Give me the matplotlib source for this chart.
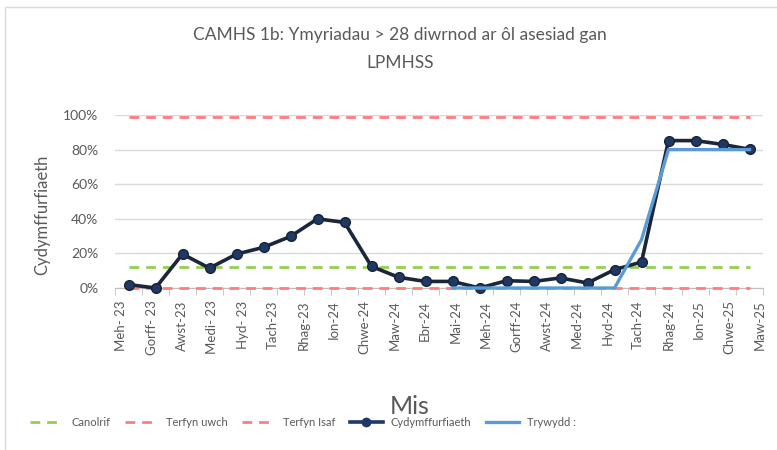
import numpy as np
import matplotlib
matplotlib.use('Agg')
import matplotlib.pyplot as plt
from matplotlib.lines import Line2D
from matplotlib.patches import Rectangle

plt.rcParams['font.family'] = ['Lato', 'DejaVu Sans']

# data (24 months)
cydymffurfiaeth = [0.02, 0.00, 0.196, 0.115, 0.196, 0.235, 0.298, 0.40, 0.379, 0.125,
                   0.062, 0.038, 0.038, 0.00, 0.042, 0.038, 0.058, 0.029, 0.106, 0.15,
                   0.852, 0.852, 0.83, 0.802]
trywydd = [np.nan] * 12 + [0.0, 0.0, 0.0, 0.0, 0.0, 0.0, 0.0, 0.279, 0.80, 0.80, 0.80, 0.80]
canolrif = 0.12
terfyn_uwch = 0.99
terfyn_isaf = 0.0
tick_labels = ['Meh- 23', 'Gorff- 23', 'Awst-23', 'Medi- 23', 'Hyd- 23', 'Tach-23', 'Rhag-23',
               'Ion-24', 'Chwe-24', 'Maw-24', 'Ebr-24', 'Mai-24', 'Meh-24', 'Gorff-24',
               'Awst-24', 'Med-24', 'Hyd-24', 'Tach-24', 'Rhag-24', 'Ion-25', 'Chwe-25', 'Maw-25']

n = len(cydymffurfiaeth)
x = np.arange(n)

grey = '#595959'
navy = '#1F3864'
blue = '#5B9BD5'
green = '#92D050'
red = '#FF7C80'

fig = plt.figure(figsize=(7.77, 4.5), dpi=100)
# chart border
fig.patches.append(Rectangle((5 / 777, -0.1), 1.0, 1.1 - 7 / 450, transform=fig.transFigure,
                             fill=False, edgecolor='#D9D9D9', lw=1.0))

ax = fig.add_axes([115 / 777, (450 - 288) / 450, (763 - 115) / 777, (288 - 115) / 450])

dash = (3.5, 2.5)
ax.plot(x, [canolrif] * n, color=green, lw=2, dashes=dash, zorder=3)
ax.plot(x, [terfyn_uwch] * n, color=red, lw=2, dashes=dash, zorder=3)
ax.plot(x, [terfyn_isaf] * n, color=red, lw=2, dashes=dash, zorder=3, clip_on=False)
ax.plot(x, cydymffurfiaeth, color='#1B2638', lw=2.6, marker='o', markersize=7,
        markerfacecolor=navy, markeredgecolor='#17233A', markeredgewidth=1, zorder=4,
        clip_on=False)
ax.plot(x, trywydd, color=blue, lw=2.4, zorder=5, clip_on=False)

ax.set_xlim(-0.5, n - 0.5)
ax.set_ylim(0, 1.0)
ax.set_yticks(np.arange(0, 1.01, 0.2))
ax.set_yticklabels([f'{int(round(v * 100))}%' for v in np.arange(0, 1.01, 0.2)],
                   fontsize=10, color=grey)
ax.grid(axis='y', color='#D9D9D9', lw=1, zorder=0)
ax.set_axisbelow(True)

# labels sit evenly across the axis, tick marks between categories
ax.set_xticks(np.linspace(-0.27, 23.37, len(tick_labels)))
ax.set_xticklabels(tick_labels, rotation=90, fontsize=9.5, color=grey)
ax.set_xticks(np.arange(-0.5, n, 1.0), minor=True)
ax.tick_params(axis='x', which='major', length=0, pad=9)
ax.tick_params(axis='x', which='minor', length=5, color='#BFBFBF')
ax.tick_params(axis='y', length=0, pad=12)

for s in ['top', 'right', 'left']:
    ax.spines[s].set_visible(False)
ax.spines['bottom'].set_color('#BFBFBF')
ax.spines['bottom'].set_zorder(1)

fig.text(400 / 777, 1 - 35 / 450, 'CAMHS 1b: Ymyriadau > 28 diwrnod ar ôl asesiad gan',
         ha='center', va='center', fontsize=12.5, color=grey)
fig.text(400 / 777, 1 - 63 / 450, 'LPMHSS', ha='center', va='center', fontsize=12.5, color=grey)
fig.text(42 / 777, 1 - 215 / 450, 'Cydymffurfiaeth', rotation=90, ha='center', va='center',
         fontsize=12, color=grey)
fig.text(410 / 777, 1 - 406 / 450, 'Mis', ha='center', va='center', fontsize=18, color=grey)

handles = [
    Line2D([], [], color=green, lw=2, dashes=dash),
    Line2D([], [], color=red, lw=2, dashes=dash),
    Line2D([], [], color=red, lw=2, dashes=dash),
    Line2D([], [], color=navy, lw=2.6, marker='o', markersize=6, markevery=[1]),
    Line2D([], [], color=blue, lw=2.4),
]
names = ['Canolrif', 'Terfyn uwch', 'Terfyn Isaf', 'Cydymffurfiaeth', 'Trywydd :']
leg = fig.legend(handles, names, ncol=5, loc='center left', bbox_to_anchor=(20 / 777, 1 - 422 / 450),
                 frameon=False, fontsize=8, handlelength=3.0, handletextpad=0.7,
                 columnspacing=1.3)
for t in leg.get_texts():
    t.set_color(grey)

fig.savefig('out.png', dpi=100)
